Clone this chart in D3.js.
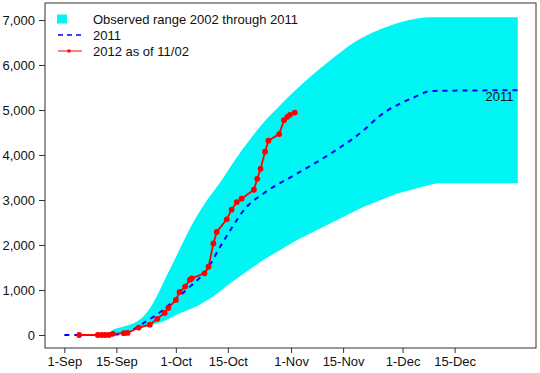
<!DOCTYPE html>
<html>
<head>
<meta charset="utf-8">
<script src="https://cdn.jsdelivr.net/npm/d3@7"></script>
<style>
  body { margin: 0; background: #fff; }
  text { font-family: "Liberation Sans", Arial, sans-serif; }
</style>
</head>
<body>
<div id="chart"></div>
<script>
// days counted from 1-Sep
var bandDays = [12, 13, 16, 19.5, 22, 24.5, 27, 30, 34, 38, 42, 46, 50, 54, 58, 61, 64, 68.8, 73, 77.7, 84.9, 91, 98, 122];
var bandHigh = [20, 110, 190, 300, 480, 800, 1230, 1730, 2400, 2950, 3400, 3900, 4350, 4760, 5100, 5350, 5580, 5920, 6200, 6490, 6790, 6960, 7060, 7060];
var lowDays = [12, 15.9, 22.2, 26.6, 31.1, 35.6, 40.1, 44.6, 53.5, 62.5, 71.5, 80.4, 89.4, 98.4, 100.5, 122];
var bandLow = [0, 44, 190, 300, 486, 632, 853, 1150, 1665, 2107, 2476, 2843, 3140, 3340, 3370, 3370];

var days2011 = [0, 10, 15, 18, 21.3, 26.6, 30, 33.8, 38.3, 41.9, 44.1, 49, 53.5, 62.5, 71.5, 80.4, 84.9, 93.9, 98.8, 122];
var vals2011 = [0, 0, 20, 100, 265, 559, 800, 1075, 1444, 1959, 2255, 2843, 3140, 3582, 4024, 4539, 4871, 5275, 5423, 5440];

var days2012 = [4, 9, 10, 11, 12, 13, 16, 17, 20, 23, 25, 27, 28, 30, 31, 32.5, 33.8, 34.3, 37.7, 38.8, 40.1, 41, 43.7, 45, 46.4, 47.7, 51, 51.9, 52.8, 54, 54.9, 57.8, 59.1, 60, 60.7, 62];
var vals2012 = [0, 0, 0, 0, 0, 25, 40, 45, 165, 230, 360, 490, 600, 780, 955, 1075, 1230, 1260, 1371, 1517, 2034, 2291, 2570, 2785, 2954, 3029, 3228, 3471, 3692, 4075, 4318, 4466, 4775, 4848, 4893, 4944];

var tickDays = [0, 14, 30, 44, 61, 75, 91, 105];
var tickLabels = ["1-Sep", "15-Sep", "1-Oct", "15-Oct", "1-Nov", "15-Nov", "1-Dec", "15-Dec"];
var yTicks = [0, 1000, 2000, 3000, 4000, 5000, 6000, 7000];

var legendLabels = ["Observed range 2002 through 2011", "2011", "2012 as of 11/02"];

var width = 540, height = 373;
var box = {left: 45, right: 536, top: 3, bottom: 348};

var svg = d3.select("#chart").append("svg")
  .attr("width", width)
  .attr("height", height);

var x = d3.scaleLinear().domain([-5.2, 126.9]).range([box.left, box.right]);
var y = d3.scaleLinear().domain([-289, 7378]).range([box.bottom, box.top]);

// band: upper edge then lower edge back
var upper = bandDays.map(function(d, i){ return [x(d), y(bandHigh[i])]; });
var lower = lowDays.map(function(d, i){ return [x(d), y(bandLow[i])]; }).reverse();
var edge = d3.line().curve(d3.curveMonotoneX);
svg.append("path")
  .attr("d", edge(upper) + "L" + lower.map(function(p){ return p.join(","); }).join("L") + "Z")
  .style("fill", "#00f5f5")
  .style("stroke", "none");

// 2011 line
var line = d3.line()
  .x(function(d){ return x(d[0]); })
  .y(function(d){ return y(d[1]); })
  .curve(d3.curveMonotoneX);

svg.append("path")
  .datum(days2011.map(function(d, i){ return [d, vals2011[i]]; }))
  .attr("d", line)
  .style("fill", "none")
  .style("stroke", "#0000ff")
  .style("stroke-width", 2)
  .style("stroke-dasharray", "5,5");

// 2012 line with points
var data2012 = days2012.map(function(d, i){ return [d, vals2012[i]]; });
svg.append("path")
  .datum(data2012)
  .attr("d", d3.line().x(function(d){ return x(d[0]); }).y(function(d){ return y(d[1]); }))
  .style("fill", "none")
  .style("stroke", "#ff0000")
  .style("stroke-width", 1.8);

svg.selectAll("circle.p2012")
  .data(data2012)
  .enter()
  .append("circle")
  .attr("class", "p2012")
  .attr("cx", function(d){ return x(d[0]); })
  .attr("cy", function(d){ return y(d[1]); })
  .attr("r", 2.9)
  .style("fill", "#ff0000");

// label at end of 2011
svg.append("text")
  .attr("x", x(113.3))
  .attr("y", y(vals2011[vals2011.length - 1]) + 11)
  .style("font-size", "13px")
  .style("fill", "#111")
  .text("2011");

// axes
var yAxis = d3.axisLeft(y).tickValues(yTicks).tickSize(6).tickFormat(d3.format(","));
svg.append("g")
  .attr("transform", "translate(" + box.left + ",0)")
  .call(yAxis)
  .call(function(g){
    g.select(".domain").remove();
    g.selectAll("line").style("stroke", "#333");
    g.selectAll("text").style("font-size", "13px").style("fill", "#111")
      .style("font-family", "Liberation Sans, Arial, sans-serif").attr("x", -10);
  });

var xAxis = d3.axisBottom(x).tickValues(tickDays).tickSize(5)
  .tickFormat(function(d, i){ return tickLabels[i]; });
svg.append("g")
  .attr("transform", "translate(0," + box.bottom + ")")
  .call(xAxis)
  .call(function(g){
    g.select(".domain").remove();
    g.selectAll("line").style("stroke", "#333");
    g.selectAll("text").style("font-size", "13px").style("fill", "#111")
      .style("font-family", "Liberation Sans, Arial, sans-serif").attr("y", 9);
  });

// frame
svg.append("rect")
  .attr("x", box.left)
  .attr("y", box.top)
  .attr("width", box.right - box.left)
  .attr("height", box.bottom - box.top)
  .style("fill", "none")
  .style("stroke", "#333")
  .style("stroke-width", 1);

// legend
var lg = svg.append("g");
var rowY = [19, 35, 51];
lg.append("rect").attr("x", 57).attr("y", rowY[0] - 4.5).attr("width", 10).attr("height", 9).style("fill", "#00f5f5");
lg.append("line").attr("x1", 58).attr("x2", 83).attr("y1", rowY[1]).attr("y2", rowY[1])
  .style("stroke", "#0000ff").style("stroke-width", 1.5).style("stroke-dasharray", "5,4");
lg.append("line").attr("x1", 58).attr("x2", 82).attr("y1", rowY[2]).attr("y2", rowY[2])
  .style("stroke", "#ff0000").style("stroke-width", 1);
lg.append("rect").attr("x", 67.5).attr("y", rowY[2] - 1.5).attr("width", 3).attr("height", 3).style("fill", "#ff0000");
lg.selectAll("text.leg")
  .data(legendLabels)
  .enter()
  .append("text")
  .attr("class", "leg")
  .attr("x", 93)
  .attr("y", function(d, i){ return rowY[i] + 4.5; })
  .style("font-size", "13px")
  .style("fill", "#111")
  .text(function(d){ return d; });
</script>
</body>
</html>
